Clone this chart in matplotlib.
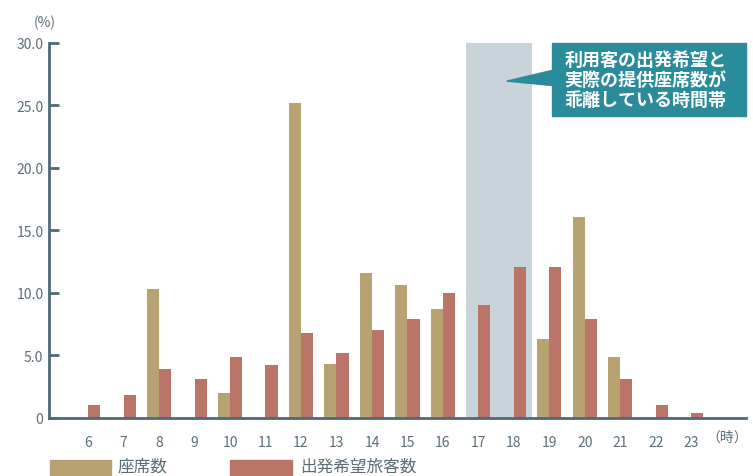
import matplotlib
matplotlib.use("Agg")
import matplotlib.pyplot as plt
from matplotlib.patches import Rectangle, Polygon
import numpy as np

plt.rcParams['font.family'] = ['Noto Sans CJK JP', 'DejaVu Sans']

# hourly data (%)
hours = [6, 7, 8, 9, 10, 11, 12, 13, 14, 15, 16, 17, 18, 19, 20, 21, 22, 23]
seats = [0, 0, 10.3, 0, 2.0, 0, 25.2, 4.3, 11.6, 10.6, 8.7, 0, 0, 6.3, 16.1, 4.9, 0, 0]
passengers = [1.0, 1.8, 3.9, 3.1, 4.9, 4.2, 6.8, 5.2, 7.0, 7.9, 10.0, 9.0, 12.1, 12.1, 7.9, 3.1, 1.0, 0.4]
y_ticks = [0, 5, 10, 15, 20, 25, 30]
y_labels = ["0", "5.0", "10.0", "15.0", "20.0", "25.0", "30.0"]
gap_hours = (17, 18)
seat_label = "座席数"
pass_label = "出発希望旅客数"
callout = "利用客の出発希望と\n実際の提供座席数が\n乖離している時間帯"

gold = "#b9a271"
red = "#bb7468"
teal = "#2a8b9b"
shade = "#c9d3da"
axc = "#4d6a77"
txt = "#5b6e78"

fig = plt.figure(figsize=(7.53, 4.77), dpi=100)
ax = fig.add_axes([0.0651, 0.1216, 0.9256, 0.7862])

w = 0.34
x = np.array(hours)
ax.axvspan(gap_hours[0] - w, gap_hours[1] + 0.5, ymin=-0.006, ymax=1, color=shade, lw=0, zorder=0)
ax.bar(x - w / 2, seats, width=w, color=gold, zorder=2, label=seat_label)
ax.bar(x + w / 2, passengers, width=w, color=red, zorder=2, label=pass_label)

ax.set_xlim(4.9, 24.54)
ax.set_ylim(0, 30)

for s in ['top', 'right']:
    ax.spines[s].set_visible(False)
for s in ['left', 'bottom']:
    ax.spines[s].set_color(axc)
    ax.spines[s].set_linewidth(2)
    ax.spines[s].set_zorder(3)

ax.set_yticks(y_ticks)
ax.set_yticklabels(y_labels)
ax.tick_params(axis='y', direction='in', length=7, width=2, color=axc,
               labelsize=10, labelcolor=txt, pad=4)
ax.set_xticks(hours)
ax.set_xticklabels([str(h) for h in hours])
ax.tick_params(axis='x', length=0, labelsize=10, labelcolor=txt, pad=12)

ax.text(24.0, -1.5, "（時）", ha='center', va='center', fontsize=10, color=txt,
        transform=ax.transData)
ax.text(-0.006, 1.055, "(%)", ha='center', va='center', fontsize=10, color=txt,
        transform=ax.transAxes)

# callout box
bx0, bx1, by0, by1 = 19.07, 24.54, 24.15, 30.0
ax.add_patch(Rectangle((bx0, by0), bx1 - bx0, by1 - by0, color=teal, zorder=4, clip_on=False))
ax.add_patch(Polygon([(bx0, 27.8), (17.8, 26.95), (bx0, 26.6)], closed=True,
                     color=teal, zorder=4, clip_on=False))
ax.text(bx0 + 0.36, (by0 + by1) / 2, callout, ha='left', va='center', fontsize=13,
        color='white', fontweight='bold', linespacing=1.05, zorder=5)

# legend
fig.patches.append(Rectangle((50 / 753, 0), 61 / 753, 16 / 477,
                             transform=fig.transFigure, color=gold))
fig.patches.append(Rectangle((230 / 753, 0), 62 / 753, 16 / 477,
                             transform=fig.transFigure, color=red))
fig.text(118 / 753, 10 / 477, seat_label, fontsize=12, color=txt, va='center', ha='left')
fig.text(300 / 753, 10 / 477, pass_label, fontsize=12, color=txt, va='center', ha='left')

fig.savefig("out.png", dpi=100)
